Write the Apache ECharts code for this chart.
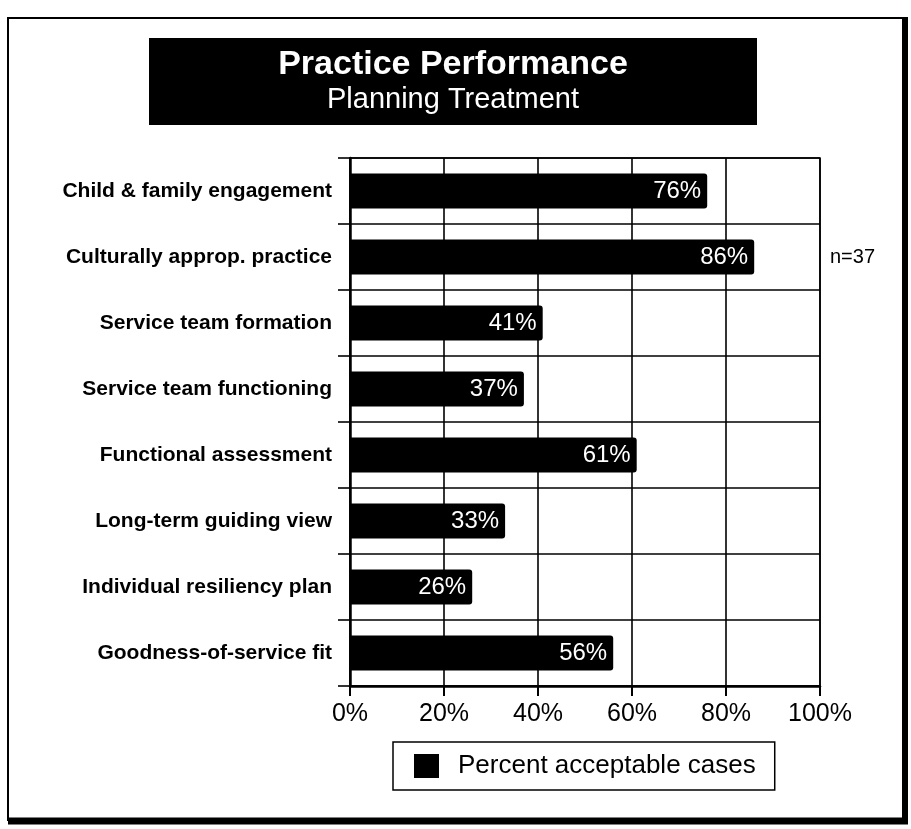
<!DOCTYPE html>
<html>
<head>
<meta charset="utf-8">
<script src="https://cdn.jsdelivr.net/npm/echarts@6/dist/echarts.min.js"></script>
<style>
  html, body { margin: 0; padding: 0; background: #fff; }
  #chart { width: 911px; height: 829px; }
</style>
</head>
<body>
<div id="chart"></div>
<script>
// Practice performance: share of acceptable cases per planning/treatment item
const categories = [
  'Child & family engagement',
  'Culturally approp. practice',
  'Service team formation',
  'Service team functioning',
  'Functional assessment',
  'Long-term guiding view',
  'Individual resiliency plan',
  'Goodness-of-service fit'
];
const acceptablePct = [76, 86, 41, 37, 61, 33, 26, 56];
const xTicks = [0, 20, 40, 60, 80, 100];
const seriesName = 'Percent acceptable cases';
const titleText = 'Practice Performance';
const subtitleText = 'Planning Treatment';
const sampleNote = 'n=37';

const FONT = '"Liberation Sans", Arial, Helvetica, sans-serif';
const chart = echarts.init(document.getElementById('chart'), null, { renderer: 'canvas' });

chart.setOption({
  backgroundColor: '#fff',
  animation: false,
  textStyle: { fontFamily: FONT, color: '#000' },
  grid: {
    left: 350, right: 91, top: 158, bottom: 143,
    show: true, borderColor: '#000', borderWidth: 1.5
  },
  legend: {
    data: [seriesName],
    left: 393, top: 742,
    padding: [11, 19, 11, 21],
    itemWidth: 25, itemHeight: 24, itemGap: 0,
    icon: 'rect',
    borderColor: '#000', borderWidth: 1.5,
    textStyle: { fontFamily: FONT, fontSize: 26, color: '#000', padding: [0, 0, 0, 14] }
  },
  xAxis: {
    type: 'value',
    min: xTicks[0], max: xTicks[xTicks.length - 1], interval: 20,
    axisLine: { show: true, lineStyle: { color: '#000', width: 2.5 } },
    axisTick: { show: true, length: 10, lineStyle: { color: '#000', width: 2 } },
    axisLabel: { formatter: '{value}%', fontSize: 25, color: '#000', margin: 16, fontFamily: FONT },
    splitLine: { show: true, lineStyle: { color: '#000', width: 1.6 } }
  },
  yAxis: {
    type: 'category',
    data: categories,
    inverse: true,
    axisLine: { show: true, lineStyle: { color: '#000', width: 2.5 } },
    axisTick: { show: true, length: 12, lineStyle: { color: '#000', width: 1.6 } },
    axisLabel: { fontSize: 21, fontWeight: 'bold', color: '#000', margin: 18, fontFamily: FONT },
    splitLine: { show: true, lineStyle: { color: '#000', width: 1.6 } }
  },
  series: [{
    name: seriesName,
    type: 'bar',
    data: acceptablePct,
    barWidth: 35,
    itemStyle: { color: '#000', borderRadius: [0, 3, 3, 0] },
    label: {
      show: true, position: 'insideRight', distance: 6,
      formatter: '{c}%', color: '#fff', fontSize: 24, fontFamily: FONT
    }
  }],
  graphic: [
    // page frame with heavier right and bottom edges
    { type: 'rect', shape: { x: 8, y: 18, width: 896, height: 802 },
      style: { fill: 'none', stroke: '#000', lineWidth: 2 }, z: 0 },
    { type: 'line', shape: { x1: 8, y1: 821, x2: 908, y2: 821 },
      style: { stroke: '#000', lineWidth: 7 } },
    { type: 'line', shape: { x1: 905, y1: 17, x2: 905, y2: 824 },
      style: { stroke: '#000', lineWidth: 6 } },
    // title banner
    { type: 'rect', shape: { x: 149, y: 38, width: 608, height: 87 },
      style: { fill: '#000' } },
    { type: 'text', x: 453, y: 65,
      style: { text: titleText, fill: '#fff', fontSize: 34, fontWeight: 'bold',
               fontFamily: FONT, align: 'center', verticalAlign: 'middle' } },
    { type: 'text', x: 453, y: 100,
      style: { text: subtitleText, fill: '#fff', fontSize: 29,
               fontFamily: FONT, align: 'center', verticalAlign: 'middle' } },
    // sample size note
    { type: 'text', x: 830, y: 257,
      style: { text: sampleNote, fill: '#000', fontSize: 20,
               fontFamily: FONT, align: 'left', verticalAlign: 'middle' } }
  ]
});
</script>
</body>
</html>
